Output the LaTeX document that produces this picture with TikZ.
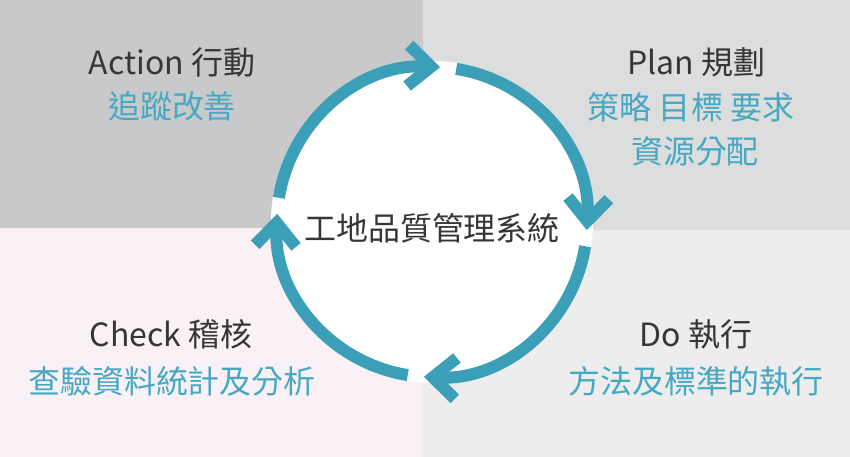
\documentclass[tikz,border=0pt]{standalone}
\usepackage{fontspec}
\setmainfont{Noto Sans CJK TC}
\usetikzlibrary{arrows.meta, positioning}
\definecolor{tealarc}{HTML}{3C9FB8}
\definecolor{tealtxt}{HTML}{46A8C3}
\definecolor{darktxt}{HTML}{363636}
\definecolor{bgact}{HTML}{C8C9CB}
\definecolor{bgplan}{HTML}{DCDDDD}
\definecolor{bgcheck}{HTML}{F9F1F6}
\definecolor{bgdo}{HTML}{EDEDED}

\begin{document}
\begin{tikzpicture}[
    x=0.2mm, y=0.2mm,
    head/.style={font=\fontsize{18.2pt}{22pt}\selectfont, text=darktxt, inner sep=0pt},
    sub/.style={font=\fontsize{18.2pt}{22pt}\selectfont, text=tealtxt, inner sep=0pt},
    cycle/.style={draw=tealarc, line width=2.4mm, -{Straight Barb[length=4.6mm, width=8.2mm]}},
]

% ---- Kvadranti ----
\fill[bgact] (0,229) rectangle (423,457);
\fill[bgplan] (423,227) rectangle (850,457);
\fill[bgcheck] (0,0) rectangle (423,229);
\fill[bgdo] (423,0) rectangle (850,227);
\useasboundingbox (0,0) rectangle (850,457);

% ---- Sredina ----
\node[circle, fill=white, minimum size=64.4mm, inner sep=0pt] (hub) at (432,235) {};
\node[head] (hubtext) at ([yshift=-1.2mm]hub.center) {工地品質管理系統};

% ---- Ciklus ----
\draw[cycle] ([shift={(171:31mm)}]hub.center) arc[start angle=171, end angle=87, radius=31mm];
\draw[cycle] ([shift={(81:31mm)}]hub.center) arc[start angle=81, end angle=-3, radius=31mm];
\draw[cycle] ([shift={(-9:31mm)}]hub.center) arc[start angle=-9, end angle=-93, radius=31mm];
\draw[cycle] ([shift={(-99:31mm)}]hub.center) arc[start angle=-99, end angle=-183, radius=31mm];

% ---- Action ----
\node[head] (act) at (172,395) {Action 行動};
\node[sub] (actsub) at (172,351) {追蹤改善};

% ---- Plan ----
\node[head] (plan) at (696,395) {Plan 規劃};
\node[sub] (plansub) at (691,350) {策略 目標 要求};
\node[sub] (plansubb) at (695,306) {資源分配};

% ---- Check ----
\node[head] (check) at (171,123) {Check 稽核};
\node[sub] (checksub) at (172,76) {查驗資料統計及分析};

% ---- Do ----
\node[head] (do) at (696,123) {Do 執行};
\node[sub] (dosub) at (696,76) {方法及標準的執行};

\end{tikzpicture}
\end{document}
